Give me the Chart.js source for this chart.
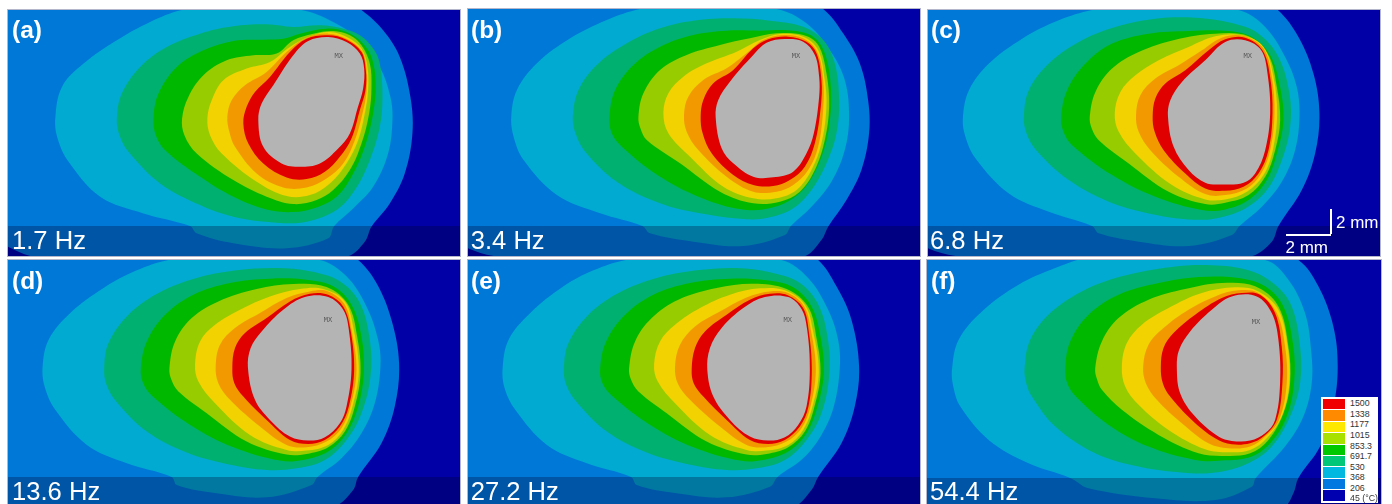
<!DOCTYPE html>
<html><head><meta charset="utf-8">
<script src="https://cdn.jsdelivr.net/npm/chart.js@4"></script>
<style>
html,body{margin:0;padding:0;background:#fff;width:1392px;height:504px;overflow:hidden}
body{position:relative;font-family:"Liberation Sans",Arial,sans-serif}
.panel{position:absolute;outline:1px solid #b4b6cc;overflow:hidden}
.panel canvas{display:block;filter:blur(.45px)}
.t{position:absolute;color:#fff;line-height:1;white-space:nowrap}
.tag{font-weight:bold;font-size:24.5px}
.hz{font-size:25.6px}
.mx{position:absolute;font:7px "DejaVu Sans Mono",monospace;color:#5a5a5a;transform:translate(-50%,-50%)}
.bar{position:absolute;background:#fff}
#legend{position:absolute;left:1321px;top:397px;width:57px;height:106px;background:#fff}
.sw{position:absolute;left:2px;width:22px;height:10.4px}
.ll{position:absolute;left:29px;font-size:8.8px;line-height:1;color:#333;white-space:nowrap;transform:translateY(-50%)}
</style></head><body>
<script>
const levelColors = ['#0078d8','#00aad0','#00b070','#00b800','#96cc00','#f2d200','#f29900','#e00000','#b4b4b4'];
const groundColor = '#0000a6';
const bandColor = 'rgba(0,0,45,0.29)';
const legendLabels = ['1500','1338','1177','1015','853.3','691.7','530','368','206','45 (°C)'];
const legendColors = ['#f00000','#ff8a00','#ffe800','#a8e000','#00c800','#00c878','#00b8e0','#0078e0','#0000b0'];
const frequencies = ['1.7 Hz','3.4 Hz','6.8 Hz','13.6 Hz','27.2 Hz','54.4 Hz'];
const panelTags = ['(a)','(b)','(c)','(d)','(e)','(f)'];

const a206=[[1085,29],[1150,90],[1200,170],[1232,290],[1238,400],[1215,520],[1170,610],[1115,680],[1095,725],[1040,770],[600,830],[100,770],[23,740],[-60,700],[-200,350],[-200,-200],[400,-200],[900,-100]];
const a368=[[165,355],[185,260],[250,190],[350,120],[450,65],[545,29],[700,5],[905,29],[1000,65],[1080,120],[1140,200],[1172,290],[1178,360],[1165,460],[1120,560],[1060,625],[1003,678],[985,715],[860,745],[700,730],[590,700],[570,678],[430,640],[300,590],[205,485],[172,415]];
const a530=[[350,355],[365,280],[420,200],[500,140],[600,100],[700,78],[800,72],[880,80],[960,75],[1030,85],[1080,105],[1120,145],[1140,190],[1148,290],[1140,380],[1110,480],[1065,570],[1010,630],[920,665],[830,668],[700,650],[600,615],[480,550],[385,455],[358,405]];
const a691=[[460,355],[475,280],[530,200],[610,150],[700,122],[790,118],[850,115],[900,100],[980,85],[1040,95],[1085,125],[1115,170],[1128,250],[1120,340],[1095,440],[1055,530],[1010,590],[950,622],[880,636],[800,628],[700,590],[600,530],[495,450],[467,405]];
const a853=[[546,355],[565,290],[610,225],[680,180],[760,165],[830,160],[880,120],[940,100],[1000,92],[1050,105],[1085,135],[1110,190],[1115,260],[1108,340],[1085,430],[1050,510],[1000,570],[950,600],[880,612],[800,590],[700,540],[590,460],[553,405]];
const a1015=[[622,355],[635,300],[670,240],[740,205],[810,185],[870,140],[930,108],[990,95],[1045,112],[1085,145],[1103,200],[1105,270],[1095,340],[1075,420],[1040,490],[990,550],[930,585],[860,588],[770,545],[665,460],[630,405]];
const a1177=[[682,350],[695,300],[735,255],[800,215],[860,155],[920,112],[985,100],[1040,115],[1085,150],[1100,205],[1100,275],[1088,340],[1065,420],[1030,490],[980,535],[920,562],[850,562],[770,520],[705,440],[688,395]];
const a1338=[[730,370],[740,320],[765,275],[810,230],[870,155],[920,115],[985,105],[1040,118],[1085,155],[1098,210],[1097,270],[1080,330],[1055,415],[1020,470],[975,515],[920,537],[860,532],[790,490],[745,430]];
const a1500=[[775,360],[785,310],[820,255],[880,165],[925,122],[985,110],[1040,125],[1080,160],[1093,205],[1090,265],[1073,325],[1050,400],[1015,445],[960,490],[900,500],[845,490],[790,440]];

const b206=[[1090,27],[1150,100],[1200,190],[1225,300],[1228,400],[1205,510],[1160,600],[1105,680],[1085,720],[1030,770],[600,830],[100,768],[23,745],[-60,700],[-200,350],[-200,-200],[400,-200],[900,-100]];
const b368=[[153,350],[170,270],[230,190],[330,115],[440,60],[540,27],[700,5],[950,27],[1040,70],[1110,150],[1155,240],[1168,350],[1155,450],[1115,545],[1055,620],[993,678],[975,705],[850,738],[700,725],[570,700],[547,678],[420,640],[290,585],[190,480],[160,410]];
const b530=[[338,350],[355,270],[410,195],[500,130],[600,85],[700,62],[820,55],[930,62],[1030,80],[1090,120],[1125,190],[1138,300],[1130,400],[1100,490],[1055,570],[1000,625],[930,652],[860,658],[720,640],[600,610],[470,545],[375,455],[346,400]];
const b691=[[448,350],[465,270],[520,195],[600,140],[700,105],[800,92],[900,92],[1000,92],[1060,110],[1095,160],[1113,260],[1108,380],[1085,470],[1045,550],[1000,595],[940,622],[860,630],[740,600],[600,530],[485,440],[455,400]];
const b853=[[535,350],[550,280],[600,210],[680,165],[780,135],[870,115],[950,100],[1030,105],[1075,135],[1100,220],[1108,320],[1095,420],[1065,510],[1020,575],[960,605],[880,610],[780,575],[660,490],[560,420],[541,385]];
const b1015=[[610,340],[625,280],[670,230],[740,190],[830,155],[900,120],[960,102],[1030,110],[1075,150],[1095,240],[1100,320],[1085,430],[1055,510],[1010,570],[950,595],[880,595],[790,560],[690,470],[625,400]];
const b1177=[[672,345],[685,290],[730,240],[800,205],[860,160],[910,120],[970,105],[1030,115],[1072,155],[1090,240],[1090,330],[1075,440],[1045,510],[1000,555],[950,575],[880,575],[800,530],[715,450],[680,395]];
const b1338=[[722,350],[730,300],[760,250],[820,210],[880,145],[925,118],[985,110],[1040,125],[1070,160],[1085,240],[1083,320],[1065,430],[1035,500],[990,540],[940,558],[880,555],[820,525],[755,460],[728,400]];
const b1500=[[767,350],[775,300],[810,245],[880,165],[920,128],[975,117],[1030,125],[1065,165],[1078,230],[1078,290],[1062,400],[1040,460],[1000,515],[940,532],[880,530],[820,490],[785,445]];

const c206=[[1068,29],[1130,110],[1175,220],[1193,340],[1180,460],[1140,570],[1070,678],[1050,725],[985,770],[600,830],[100,768],[17,745],[-60,700],[-200,350],[-200,-200],[400,-200],[900,-100]];
const c368=[[122,350],[140,270],[200,190],[300,115],[410,60],[510,29],[700,0],[950,29],[1030,80],[1090,170],[1125,260],[1133,350],[1120,450],[1080,545],[1020,620],[953,678],[930,705],[800,738],[650,725],[530,700],[510,678],[380,635],[260,580],[160,475],[128,405]];
const c530=[[305,350],[320,270],[380,190],[470,125],[580,80],[700,55],[820,52],[930,68],[1010,100],[1070,170],[1103,280],[1105,380],[1080,480],[1035,570],[970,625],[880,655],[800,658],[680,640],[560,605],[440,540],[342,450],[313,400]];
const c691=[[417,350],[435,270],[490,190],[570,130],[680,100],[800,92],[920,92],[990,110],[1045,165],[1075,260],[1085,360],[1068,450],[1035,540],[980,600],[910,628],[840,630],[700,590],[570,525],[450,435],[424,395]];
const c853=[[503,350],[520,275],[570,205],[650,155],[760,118],[880,100],[980,108],[1040,165],[1065,260],[1075,360],[1060,450],[1030,530],[980,585],[910,608],[850,612],[740,575],[620,490],[530,420],[509,385]];
const c1015=[[578,340],[595,275],[640,225],[710,180],[800,140],[880,108],[960,105],[1025,140],[1055,230],[1066,340],[1053,450],[1025,525],[975,575],[910,598],[850,598],[750,555],[640,460],[590,395]];
const c1177=[[642,345],[655,285],[700,235],[770,195],[840,150],[900,112],[965,107],[1025,145],[1050,230],[1058,340],[1045,450],[1018,520],[975,565],[910,585],[850,582],[770,530],[685,450],[650,395]];
const c1338=[[692,350],[700,295],[730,250],[790,210],[860,150],[910,117],[970,112],[1022,150],[1045,230],[1052,340],[1040,450],[1010,520],[965,560],[910,572],[850,565],[790,520],[725,450],[698,395]];
const c1500=[[738,350],[745,300],[780,245],[850,180],[910,125],[970,120],[1018,150],[1037,220],[1045,340],[1030,450],[1000,520],[965,548],[900,553],[850,548],[800,510],[755,440]];

const d206=[[1075,31],[1130,100],[1175,210],[1198,340],[1185,470],[1145,580],[1075,681],[1060,720],[1000,770],[600,830],[23,790],[-60,720],[-200,350],[-200,-200],[400,-200],[900,-100]];
const d368=[[127,350],[145,270],[210,190],[310,115],[410,62],[505,31],[700,0],[960,31],[1040,80],[1100,170],[1135,270],[1142,350],[1125,460],[1085,550],[1025,625],[953,681],[935,705],[800,742],[650,730],[530,705],[515,681],[380,640],[260,585],[165,480],[133,410]];
const d530=[[312,355],[325,280],[385,195],[475,130],[590,85],[710,62],[830,55],[930,65],[1020,95],[1080,160],[1110,270],[1112,380],[1085,490],[1040,570],[975,630],[890,655],[800,660],[680,642],[560,608],[440,545],[348,455],[319,405]];
const d691=[[422,355],[440,275],[495,195],[580,135],[690,100],[810,87],[920,90],[1000,110],[1055,165],[1085,260],[1092,370],[1075,470],[1040,550],[985,605],[910,630],[840,632],[700,592],[570,525],[458,440],[429,400]];
const d853=[[508,355],[525,275],[575,205],[655,155],[770,118],[880,103],[980,112],[1045,165],[1072,260],[1082,370],[1065,470],[1035,545],[985,592],[920,612],[860,614],[740,575],[620,490],[535,425],[514,390]];
const d1015=[[585,345],[600,275],[645,225],[720,180],[810,140],[900,118],[970,118],[1035,155],[1062,240],[1077,365],[1058,470],[1030,540],[985,585],[920,602],[860,600],[750,555],[645,460],[595,395]];
const d1177=[[647,350],[660,285],[705,235],[780,190],[860,145],[930,125],[985,125],[1035,165],[1055,240],[1070,360],[1052,470],[1025,535],[980,575],[920,592],[860,585],[780,530],[690,450],[655,400]];
const d1338=[[697,355],[705,295],[735,250],[800,205],[870,155],[930,132],[985,135],[1030,170],[1052,240],[1063,360],[1047,470],[1020,530],[975,570],[925,582],[870,570],[800,510],[730,440],[703,400]];
const d1500=[[744,355],[752,295],[785,245],[850,180],[915,142],[985,142],[1030,180],[1047,240],[1055,360],[1040,470],[1020,520],[975,562],[925,572],[870,560],[810,510],[765,450]];

const e206=[[1075,31],[1130,110],[1175,210],[1198,350],[1185,470],[1145,580],[1075,681],[1055,720],[1000,770],[600,830],[23,790],[-60,720],[-200,350],[-200,-200],[400,-200],[900,-100]];
const e368=[[127,355],[145,270],[210,190],[310,110],[400,62],[497,31],[700,0],[965,31],[1045,85],[1105,180],[1135,270],[1140,355],[1122,470],[1085,555],[1030,625],[953,681],[930,710],[800,742],[650,730],[530,705],[513,681],[380,640],[260,585],[165,480],[133,415]];
const e530=[[311,355],[325,280],[385,195],[475,130],[590,85],[710,62],[830,55],[930,68],[1020,100],[1078,170],[1106,280],[1108,380],[1085,490],[1040,570],[975,630],[890,655],[800,660],[680,642],[560,608],[440,545],[348,455],[318,405]];
const e691=[[420,355],[438,275],[495,195],[580,135],[690,100],[810,87],[920,92],[1000,113],[1055,170],[1083,265],[1092,370],[1073,470],[1040,550],[985,605],[910,630],[840,632],[700,592],[570,525],[458,440],[427,400]];
const e853=[[507,355],[525,275],[575,205],[655,150],[770,115],[880,102],[980,118],[1045,172],[1070,265],[1082,370],[1064,470],[1035,545],[985,592],[920,612],[860,614],[740,575],[620,490],[535,425],[513,390]];
const e1015=[[582,345],[600,275],[645,225],[720,175],[810,135],[900,116],[975,122],[1035,165],[1060,245],[1077,365],[1058,470],[1030,540],[985,585],[920,602],[860,600],[750,555],[645,460],[593,395]];
const e1177=[[645,350],[660,285],[705,230],[780,185],[860,143],[930,125],[985,130],[1033,170],[1054,245],[1068,360],[1052,470],[1025,535],[980,575],[920,592],[860,585],[780,530],[690,450],[653,400]];
const e1338=[[695,360],[705,295],[735,245],[800,195],[870,150],[930,132],[985,137],[1030,175],[1047,245],[1056,360],[1046,470],[1020,530],[975,570],[925,582],[870,570],[800,510],[730,440],[701,400]];
const e1500=[[742,360],[750,295],[785,235],[850,175],[915,142],[985,142],[1025,178],[1042,240],[1050,360],[1040,470],[1015,525],[975,562],[925,572],[870,560],[810,510],[760,440]];

const f206=[[1130,31],[1190,110],[1235,230],[1248,350],[1235,470],[1195,590],[1130,684],[1115,730],[1085,770],[600,830],[15,790],[-60,720],[-200,350],[-200,-200],[400,-200],[900,-100]];
const f368=[[90,360],[110,270],[180,185],[290,105],[400,55],[510,20],[700,0],[1030,31],[1100,90],[1150,190],[1168,300],[1170,400],[1145,500],[1090,590],[1002,684],[990,710],[880,750],[700,745],[500,715],[445,684],[320,640],[200,570],[115,470],[95,415]];
const f530=[[308,355],[325,270],[385,190],[480,125],[600,80],[750,52],[870,47],[980,62],[1060,105],[1110,170],[1135,290],[1135,400],[1105,500],[1050,590],[980,640],[880,668],[780,668],[650,650],[520,610],[400,530],[330,440],[313,400]];
const f691=[[430,355],[445,275],[500,195],[590,135],[710,100],[830,82],[950,85],[1030,110],[1085,170],[1115,290],[1117,400],[1095,500],[1050,575],[990,620],[900,632],[820,630],[680,590],[560,525],[462,440],[436,400]];
const f853=[[520,355],[540,275],[590,205],[680,150],[790,118],[900,100],[1000,110],[1070,170],[1100,290],[1105,400],[1085,490],[1040,570],[985,610],[910,618],[830,610],[710,555],[600,480],[540,420],[526,390]];
const f1015=[[600,350],[615,280],[660,225],[740,175],[840,130],[940,113],[1010,125],[1070,180],[1098,290],[1103,400],[1080,500],[1035,565],[985,600],[920,607],[850,598],[740,540],[650,465],[610,410]];
const f1177=[[664,350],[680,285],[725,235],[800,180],[880,140],[950,122],[1010,130],[1065,190],[1090,290],[1095,400],[1072,510],[1030,560],[985,590],[920,595],[860,580],[780,520],[705,450],[672,400]];
const f1338=[[717,352],[725,295],[755,250],[820,195],[900,145],[960,130],[1015,135],[1060,190],[1080,290],[1082,400],[1065,510],[1025,560],[985,580],[930,583],[880,565],[810,510],[745,440],[723,400]];
const f1500=[[765,350],[772,300],[805,245],[870,180],[930,140],[1005,140],[1050,190],[1070,270],[1075,400],[1060,510],[1030,550],[985,572],[930,573],[890,560],[820,500],[775,430]];

const contours=[
 [a206,a368,a530,a691,a853,a1015,a1177,a1338,a1500],
 [b206,b368,b530,b691,b853,b1015,b1177,b1338,b1500],
 [c206,c368,c530,c691,c853,c1015,c1177,c1338,c1500],
 [d206,d368,d530,d691,d853,d1015,d1177,d1338,d1500],
 [e206,e368,e530,e691,e853,e1015,e1177,e1338,e1500],
 [f206,f368,f530,f691,f853,f1015,f1177,f1338,f1500]];

// frame of each panel on the page, and the extent of its data units
const frames=[
 {l:8,t:10,w:452,h:246,x0:23,x1:1381,y0:29,y1:768,band:678,tagX:12,tagB:39,hzX:12,hzB:250,mx:[338.7,56]},
 {l:468,t:9,w:452,h:247,x0:23,x1:1381,y0:27,y1:768,band:678,tagX:471,tagB:39,hzX:470.7,hzB:250,mx:[796,55.7]},
 {l:928,t:10,w:452,h:246,x0:17,x1:1375,y0:29,y1:768,band:678,tagX:931,tagB:39,hzX:930,hzB:250,mx:[1247.7,56]},
 {l:8,t:260,w:452,h:244,x0:23,x1:1381,y0:31,y1:762,band:681,tagX:12,tagB:290,hzX:12,hzB:500.7,mx:[328,319.7]},
 {l:468,t:260,w:452,h:244,x0:23,x1:1381,y0:31,y1:762,band:681,tagX:471,tagB:290,hzX:470.7,hzB:500.7,mx:[787.7,320]},
 {l:927,t:260,w:454,h:244,x0:15,x1:1378,y0:31,y1:762,band:684,tagX:931,tagB:290,hzX:930,hzB:500.7,mx:[1256,322]}];

function addText(cls,txt,x,y){const d=document.createElement('div');d.className=cls;d.textContent=txt;d.style.left=x+'px';d.style.top=y+'px';document.body.appendChild(d);return d;}

// the spline needs neighbours at the seam, so each closed contour overlaps itself by a point or two
function closedLoop(poly){
  const n=poly.length;
  return [poly[n-1]].concat(poly,[poly[0],poly[1]]).map(p=>({x:p[0],y:p[1]}));
}

frames.forEach((f,i)=>{
  const box=document.createElement('div');box.className='panel';
  box.style.cssText=`left:${f.l}px;top:${f.t}px;width:${f.w}px;height:${f.h}px`;
  const cv=document.createElement('canvas');cv.width=f.w;cv.height=f.h;box.appendChild(cv);document.body.appendChild(box);
  const n=levelColors.length;
  const sets=contours[i].map((poly,k)=>({
    label:'level '+k,order:n+1-k,
    data:closedLoop(poly),
    showLine:true,fill:'shape',backgroundColor:levelColors[k],borderWidth:0,borderColor:'transparent',
    pointRadius:0,tension:0.36}));
  sets.push({label:'band',order:0,data:[[f.x0,f.band],[f.x1,f.band],[f.x1,f.y1+20],[f.x0,f.y1+20],[f.x0,f.band]].map(p=>({x:p[0],y:p[1]})),
    showLine:true,fill:'shape',backgroundColor:bandColor,borderWidth:0,borderColor:'transparent',pointRadius:0,tension:0});
  new Chart(cv,{type:'scatter',data:{datasets:sets},options:{
    responsive:false,animation:false,events:[],layout:{padding:0},
    elements:{line:{capBezierPoints:false}},
    plugins:{legend:{display:false},tooltip:{enabled:false},title:{display:false}},
    scales:{
      x:{type:'linear',display:false,min:f.x0,max:f.x1},
      y:{type:'linear',display:false,reverse:true,min:f.y0,max:f.y1}}},
    plugins:[{id:'ground',beforeDraw(c){const g=c.ctx;g.save();g.fillStyle=groundColor;g.fillRect(0,0,c.width,c.height);g.restore();}}]});
  addText('t tag',panelTags[i],f.tagX,f.tagB-20.7);
  addText('t hz',frequencies[i],f.hzX,f.hzB-21.7);
  addText('mx','MX',f.mx[0],f.mx[1]);
});

// scale bars
[[1330,209,2,25],[1286,234,45,2]].forEach(r=>{const d=document.createElement('div');d.className='bar';
  d.style.cssText=`left:${r[0]}px;top:${r[1]}px;width:${r[2]}px;height:${r[3]}px`;document.body.appendChild(d);});
addText('t','2 mm',1336,214).style.fontSize='17px';
addText('t','2 mm',1285.5,238.5).style.fontSize='17px';

// legend
const lg=document.createElement('div');lg.id='legend';document.body.appendChild(lg);
legendColors.forEach((c,i)=>{const s=document.createElement('div');s.className='sw';s.style.background=c;s.style.top=(2+i*11.4)+'px';lg.appendChild(s);});
legendLabels.forEach((t,i)=>{const s=document.createElement('div');s.className='ll';s.textContent=t;s.style.top=(6.3+i*10.55)+'px';lg.appendChild(s);});
</script>
</body></html>
